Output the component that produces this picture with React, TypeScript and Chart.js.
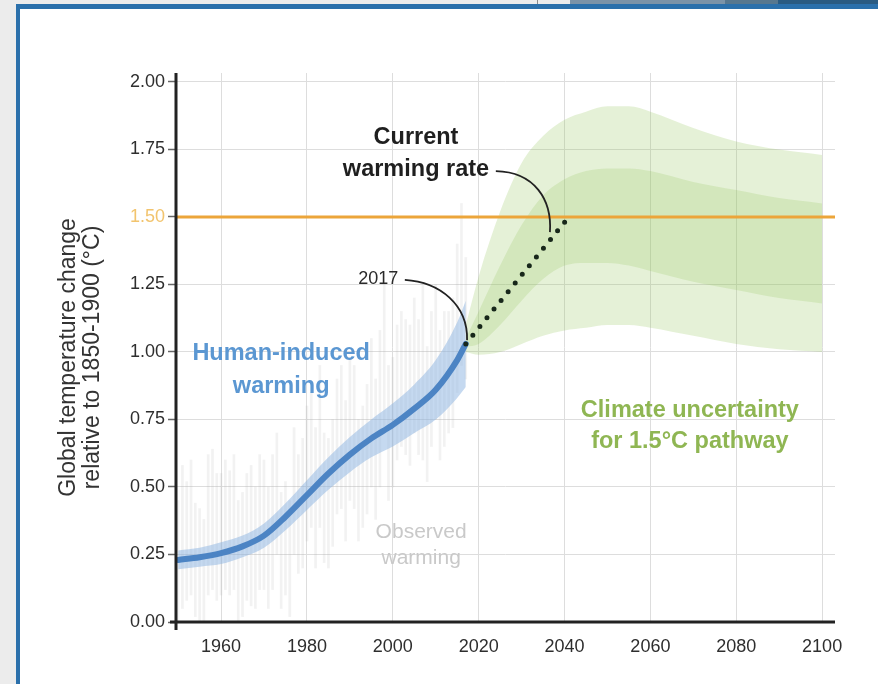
import React, { useEffect, useRef } from "react";
import { Chart, registerables } from "chart.js";

Chart.register(...registerables);

// ---- data ----
const xTicks = [1960, 1980, 2000, 2020, 2040, 2060, 2080, 2100];
const yTicks = [0, 0.25, 0.5, 0.75, 1.0, 1.25, 1.5, 1.75, 2.0];

const obsYears = [
  1950, 1951, 1952, 1953, 1954, 1955, 1956, 1957, 1958, 1959,
  1960, 1961, 1962, 1963, 1964, 1965, 1966, 1967, 1968, 1969,
  1970, 1971, 1972, 1973, 1974, 1975, 1976, 1977, 1978, 1979,
  1980, 1981, 1982, 1983, 1984, 1985, 1986, 1987, 1988, 1989,
  1990, 1991, 1992, 1993, 1994, 1995, 1996, 1997, 1998, 1999,
  2000, 2001, 2002, 2003, 2004, 2005, 2006, 2007, 2008, 2009,
  2010, 2011, 2012, 2013, 2014, 2015, 2016, 2017,
];
const obsHigh = [
  0.45, 0.58, 0.52, 0.6, 0.44, 0.42, 0.38, 0.62, 0.64, 0.55,
  0.55, 0.6, 0.56, 0.62, 0.45, 0.48, 0.55, 0.58, 0.5, 0.62,
  0.6, 0.5, 0.62, 0.7, 0.48, 0.52, 0.45, 0.72, 0.62, 0.68,
  0.8, 0.85, 0.72, 0.95, 0.7, 0.68, 0.75, 0.9, 0.95, 0.82,
  0.98, 0.95, 0.75, 0.8, 0.88, 1.05, 0.9, 1.08, 1.25, 0.95,
  0.98, 1.1, 1.15, 1.12, 1.1, 1.2, 1.12, 1.25, 1.02, 1.15,
  1.25, 1.08, 1.15, 1.15, 1.2, 1.4, 1.55, 1.35,
];
const obsLow = [
  0.0, 0.05, 0.08, 0.1, 0.02, 0.0, 0.0, 0.1, 0.12, 0.08,
  0.1, 0.12, 0.1, 0.12, 0.0, 0.02, 0.08, 0.06, 0.05, 0.12,
  0.12, 0.05, 0.12, 0.25, 0.05, 0.1, 0.02, 0.25, 0.18, 0.2,
  0.3, 0.35, 0.2, 0.35, 0.22, 0.2, 0.28, 0.4, 0.42, 0.3,
  0.45, 0.42, 0.3, 0.35, 0.4, 0.5, 0.38, 0.5, 0.7, 0.45,
  0.5, 0.6, 0.65, 0.62, 0.58, 0.7, 0.62, 0.6, 0.52, 0.65,
  0.75, 0.6, 0.65, 0.7, 0.72, 0.85, 0.95, 0.9,
];

const humanYears = [1950, 1955, 1960, 1965, 1970, 1975, 1980, 1985, 1990, 1995, 2000, 2005, 2010, 2015, 2017];
const humanMid = [0.23, 0.24, 0.255, 0.28, 0.32, 0.39, 0.47, 0.55, 0.62, 0.68, 0.73, 0.79, 0.86, 0.97, 1.03];
const humanHigh = [0.265, 0.275, 0.295, 0.32, 0.365, 0.44, 0.525, 0.61, 0.685, 0.75, 0.81, 0.88, 0.97, 1.11, 1.19];
const humanLow = [0.195, 0.205, 0.215, 0.24, 0.275, 0.34, 0.415, 0.49, 0.555, 0.61, 0.65, 0.7, 0.75, 0.83, 0.87];

const pathYears = [2017, 2020, 2025, 2030, 2035, 2040, 2045, 2050, 2055, 2060, 2070, 2080, 2090, 2100];
const outerHigh = [1.1, 1.28, 1.52, 1.7, 1.8, 1.86, 1.89, 1.91, 1.91, 1.89, 1.83, 1.78, 1.75, 1.73];
const outerLow = [1.0, 0.99, 1.0, 1.03, 1.06, 1.08, 1.09, 1.1, 1.1, 1.09, 1.06, 1.03, 1.01, 1.0];
const innerHigh = [1.05, 1.15, 1.32, 1.47, 1.58, 1.64, 1.67, 1.68, 1.68, 1.67, 1.63, 1.6, 1.57, 1.55];
const innerLow = [1.02, 1.03, 1.1, 1.19, 1.27, 1.32, 1.33, 1.33, 1.32, 1.3, 1.26, 1.23, 1.2, 1.18];

const targetLevel = 1.5;
const targetYears = [1949.5, 2103];
const rateYears = [2017, 2041];
const rateValues = [1.03, 1.5];

// ---- annotation placement (data units) ----
const FONT = "'Liberation Sans', Arial, Helvetica, sans-serif";
const notes = [
  { text: "Current", x: 2005.4, y: 1.796, font: `bold 23.5px ${FONT}`, color: "#1f1f1f" },
  { text: "warming rate", x: 2005.4, y: 1.674, font: `bold 23.5px ${FONT}`, color: "#1f1f1f" },
  { text: "2017", x: 1996.6, y: 1.27, font: `18px ${FONT}`, color: "#2a2a2a" },
  { text: "Human-induced", x: 1974.0, y: 0.996, font: `bold 23.5px ${FONT}`, color: "#5b97d2" },
  { text: "warming", x: 1974.0, y: 0.874, font: `bold 23.5px ${FONT}`, color: "#5b97d2" },
  { text: "Climate uncertainty", x: 2069.2, y: 0.785, font: `bold 23.5px ${FONT}`, color: "#8fb653" },
  { text: "for 1.5°C pathway", x: 2069.2, y: 0.67, font: `bold 23.5px ${FONT}`, color: "#8fb653" },
  { text: "Observed", x: 2006.6, y: 0.333, font: `21px ${FONT}`, color: "#c9c9c9" },
  { text: "warming", x: 2006.6, y: 0.237, font: `21px ${FONT}`, color: "#c9c9c9" },
];
const connectors = [
  [[2024.0, 1.67], [2033.1, 1.667], [2037.1, 1.563], [2036.6, 1.444]],
  [[2002.8, 1.267], [2011.0, 1.259], [2017.5, 1.174], [2017.3, 1.044]],
];

const framePlugin = {
  id: "frame",
  beforeDraw(chart: any) {
    const { ctx, width, height } = chart;
    ctx.save();
    ctx.fillStyle = "#ececec";
    ctx.fillRect(0, 0, width, height);
    ctx.fillStyle = "#ffffff";
    ctx.fillRect(16, 4, width - 16, height - 4);
    ctx.fillStyle = "#2b70ab";
    ctx.fillRect(16, 4, width - 16, 5);
    ctx.fillRect(16, 4, 4, height - 4);
    ctx.fillStyle = "#7b93a8";
    ctx.fillRect(570, 0, 155, 4);
    ctx.fillStyle = "#56778f";
    ctx.fillRect(725, 0, 53, 4);
    ctx.fillStyle = "#2a5b82";
    ctx.fillRect(778, 0, 100, 4);
    ctx.fillStyle = "#8a8a8a";
    ctx.fillRect(537, 0, 1, 4);
    ctx.restore();
  },
};

const overlayPlugin = {
  id: "overlay",
  afterDraw(chart: any) {
    const { ctx, chartArea } = chart;
    const xs = chart.scales.x;
    const ys = chart.scales.y;
    ctx.save();
    // axis lines
    ctx.strokeStyle = "#222";
    ctx.lineWidth = 3;
    ctx.beginPath();
    ctx.moveTo(chartArea.left, chartArea.top);
    ctx.lineTo(chartArea.left, chartArea.bottom + 8);
    ctx.moveTo(chartArea.left - 6, chartArea.bottom);
    ctx.lineTo(chartArea.right, chartArea.bottom);
    ctx.stroke();

    // y title
    ctx.fillStyle = "#333";
    ctx.font = `23px ${FONT}`;
    ctx.textAlign = "center";
    ctx.textBaseline = "middle";
    const cy = (chartArea.top + chartArea.bottom) / 2 + 10;
    const titleLines = ["Global temperature change", "relative to 1850-1900 (°C)"];
    titleLines.forEach((t, i) => {
      ctx.save();
      ctx.translate(69 + i * 24, cy);
      ctx.rotate(-Math.PI / 2);
      ctx.fillText(t, 0, 0);
      ctx.restore();
    });

    // connectors
    ctx.strokeStyle = "#222";
    ctx.lineWidth = 1.8;
    connectors.forEach((c) => {
      const p = c.map(([a, b]) => [xs.getPixelForValue(a), ys.getPixelForValue(b)]);
      ctx.beginPath();
      ctx.moveTo(p[0][0], p[0][1]);
      ctx.bezierCurveTo(p[1][0], p[1][1], p[2][0], p[2][1], p[3][0], p[3][1]);
      ctx.stroke();
    });

    // notes
    notes.forEach((n) => {
      ctx.font = n.font;
      ctx.fillStyle = n.color;
      ctx.fillText(n.text, xs.getPixelForValue(n.x), ys.getPixelForValue(n.y));
    });
    ctx.restore();
  },
};

export default function App() {
  const ref = useRef<HTMLCanvasElement | null>(null);
  useEffect(() => {
    if (!ref.current) return;
    const band = (years: number[], vals: number[]) => years.map((x, i) => ({ x, y: vals[i] }));
    const lineBase = { pointRadius: 0, borderWidth: 0, borderColor: "transparent", cubicInterpolationMode: "monotone" as const };
    const chart = new Chart(ref.current, {
      type: "line",
      data: {
        datasets: [
          {
            type: "bar",
            data: obsYears.map((x, i) => ({ x, y: [obsLow[i], obsHigh[i]] })) as any,
            backgroundColor: "rgba(175,175,175,0.16)",
            barThickness: 2,
            order: 9,
          } as any,
          { ...lineBase, data: band(pathYears, outerHigh), fill: "+1", backgroundColor: "rgba(141,193,80,0.23)", order: 8 },
          { ...lineBase, data: band(pathYears, outerLow), fill: false, order: 8 },
          { ...lineBase, data: band(pathYears, innerHigh), fill: "+1", backgroundColor: "rgba(141,193,80,0.2)", order: 7 },
          { ...lineBase, data: band(pathYears, innerLow), fill: false, order: 7 },
          { ...lineBase, data: band(humanYears, humanHigh), fill: "+1", backgroundColor: "rgba(140,180,225,0.5)", order: 6 },
          { ...lineBase, data: band(humanYears, humanLow), fill: false, order: 6 },
          {
            data: band(humanYears, humanMid),
            borderColor: "#4c84c4",
            borderWidth: 6,
            pointRadius: 0,
            fill: false,
            cubicInterpolationMode: "monotone",
            borderCapStyle: "round",
            order: 3,
          },
          {
            data: targetYears.map((x) => ({ x, y: targetLevel })),
            borderColor: "#eca53a",
            borderWidth: 3,
            pointRadius: 0,
            fill: false,
            order: 2,
          },
          {
            data: band(rateYears, rateValues),
            borderColor: "#17271a",
            borderWidth: 5,
            borderDash: [0, 11.2],
            borderCapStyle: "round",
            pointRadius: 0,
            fill: false,
            order: 1,
          },
        ],
      },
      options: {
        animation: false,
        responsive: false,
        devicePixelRatio: 1,
        layout: { padding: { left: 0, top: 73, right: 43, bottom: 0 } },
        plugins: { legend: { display: false }, tooltip: { enabled: false }, title: { display: false } },
        scales: {
          x: {
            type: "linear",
            min: 1949.5,
            max: 2103,
            offset: false,
            afterFit: (s: any) => {
              s.height = 62;
            },
            afterBuildTicks: (s: any) => {
              s.ticks = xTicks.map((v) => ({ value: v }));
            },
            grid: { color: "#dddddd", lineWidth: 1, drawTicks: false, offset: false },
            border: { display: false },
            ticks: {
              autoSkip: false,
              maxRotation: 0,
              padding: 14,
              color: "#2e2e2e",
              font: { family: FONT, size: 18 },
              callback: (v: any) => String(v),
            },
          },
          y: {
            type: "linear",
            min: 0,
            max: 2.0333,
            afterFit: (s: any) => {
              s.width = 176;
            },
            afterBuildTicks: (s: any) => {
              s.ticks = yTicks.map((v) => ({ value: v }));
            },
            grid: { color: "#dddddd", lineWidth: 1, tickColor: "#666", tickLength: 8, tickWidth: 1.5 },
            border: { display: false },
            ticks: {
              padding: 3,
              color: (c: any) => (c.tick && c.tick.value === 1.5 ? "#f2c46e" : "#2e2e2e"),
              font: { family: FONT, size: 18 },
              callback: (v: any) => Number(v).toFixed(2),
            },
          },
        },
      },
      plugins: [framePlugin, overlayPlugin],
    });
    return () => chart.destroy();
  }, []);

  return (
    <div style={{ position: "fixed", left: 0, top: 0, width: 878, height: 684 }}>
      <canvas ref={ref} width={878} height={684} style={{ display: "block", width: 878, height: 684 }} />
    </div>
  );
}
